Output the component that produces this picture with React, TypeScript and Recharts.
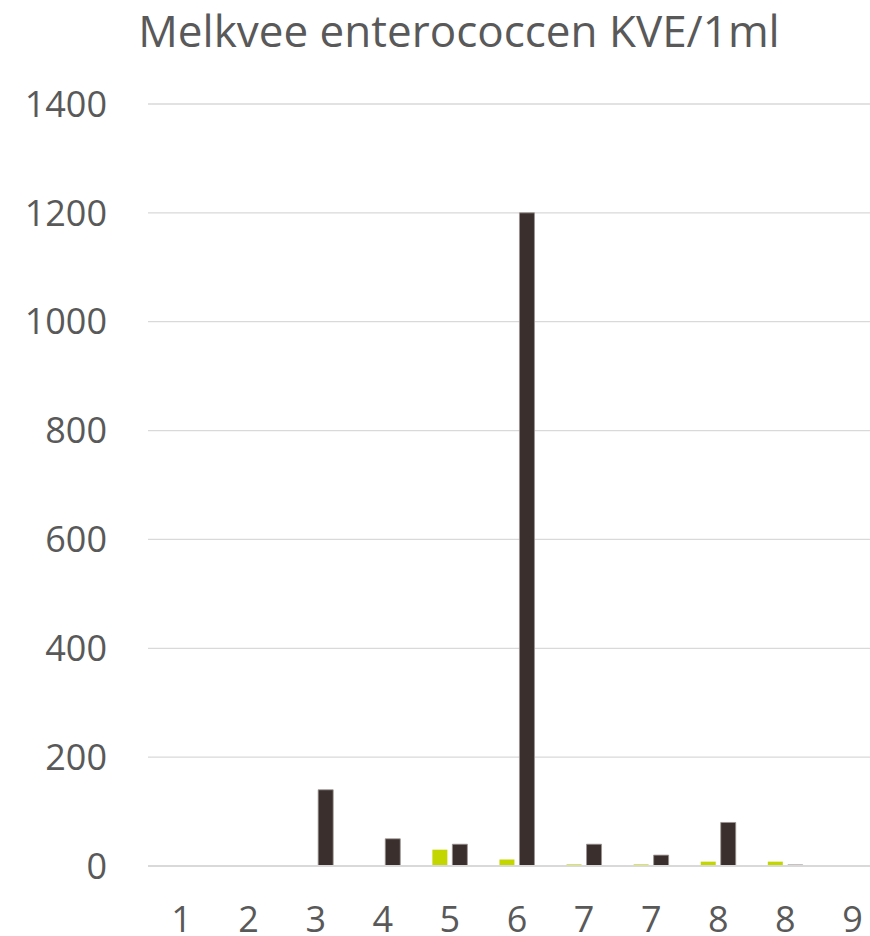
import React from "react";
import { BarChart, Bar, XAxis, YAxis, CartesianGrid } from "recharts";

const categories = ["1", "2", "3", "4", "5", "6", "7", "7", "8", "8", "9"];
const seriesGreen = [0, 0, 0, 0, 30, 12, 3, 3, 8, 8, 0];
const seriesDark = [0, 0, 140, 50, 40, 1200, 40, 20, 80, 2, 0];
const yTicks = [0, 200, 400, 600, 800, 1000, 1200, 1400];
const title = "Melkvee enterococcen KVE/1ml";

const data = categories.map((c, i) => ({
  label: c,
  green: seriesGreen[i],
  dark: seriesDark[i],
}));

const FONT = "'Open Sans', sans-serif";
const TXT = "#595959";

export default function App() {
  return (
    <div
      style={{
        position: "absolute",
        left: 0,
        top: 0,
        width: 870,
        height: 936,
        overflow: "hidden",
        background: "#ffffff",
        fontFamily: FONT,
      }}
    >
      <div
        style={{
          position: "absolute",
          left: 0,
          top: 8,
          width: 918,
          textAlign: "center",
          fontSize: 44,
          lineHeight: "44px",
          color: TXT,
          fontFamily: FONT,
          whiteSpace: "nowrap",
        }}
      >
        {title}
      </div>
      <div style={{ position: "absolute", left: 0, top: 0 }}>
        <BarChart
          width={890}
          height={936}
          data={data}
          margin={{ top: 104, right: 4, left: 0, bottom: 0 }}
          barSize={15}
          barGap={5}
        >
          <CartesianGrid
            vertical={false}
            stroke="#d9d9d9"
            strokeWidth={1.3}
          />
          <XAxis
            dataKey="label"
            interval={0}
            height={70}
            tickLine={false}
            tickSize={0}
            tickMargin={40}
            axisLine={{ stroke: "#d9d9d9", strokeWidth: 2 }}
            tick={{ fill: TXT, fontSize: 36, fontFamily: FONT }}
          />
          <YAxis
            width={148}
            domain={[0, 1400]}
            ticks={yTicks}
            interval={0}
            axisLine={false}
            tickLine={false}
            tickSize={0}
            tickMargin={41}
            tick={{ fill: TXT, fontSize: 36, fontFamily: FONT }}
          />
          <Bar dataKey="green" fill="#c4d600" isAnimationActive={false} />
          <Bar
            dataKey="dark"
            fill="#3a2f2c"
            stroke="#9a9390"
            strokeWidth={0.8}
            isAnimationActive={false}
          />
        </BarChart>
      </div>
    </div>
  );
}
